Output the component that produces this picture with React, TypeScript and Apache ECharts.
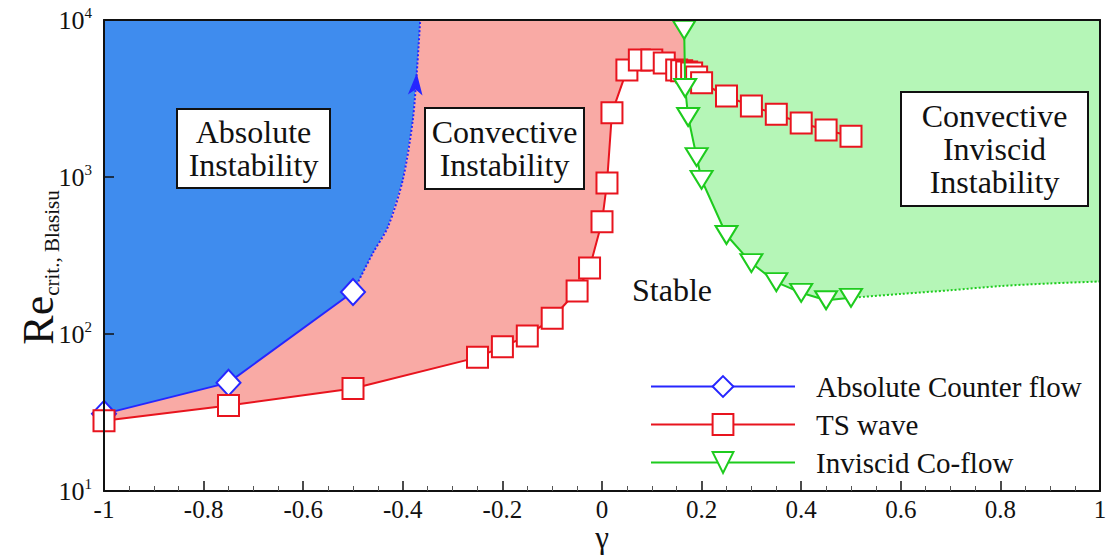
import React, { useEffect, useRef } from "react";
import * as echarts from "echarts";

// ---- data ----
const absGamma = [-1, -0.75, -0.5];
const absRe = [31, 49, 185];
const absExtGamma = [-0.5, -0.46, -0.43, -0.4, -0.38, -0.372, -0.365];
const absExtRe = [185, 328, 480, 960, 2300, 4600, 10000];

const tsGamma = [-1, -0.75, -0.5, -0.25, -0.2, -0.15, -0.1, -0.05, -0.025, 0, 0.01, 0.02, 0.05, 0.075, 0.1, 0.125, 0.15, 0.16, 0.17, 0.18, 0.19, 0.2, 0.25, 0.3, 0.35, 0.4, 0.45, 0.5];
const tsRe = [28, 35, 45, 71, 83, 97, 126, 188, 263, 519, 915, 2570, 4800, 5560, 5560, 5320, 4800, 4750, 4660, 4590, 4330, 3980, 3280, 2830, 2510, 2210, 1990, 1820];

const coTopGamma = 0.165;
const coGamma = [0.165, 0.167, 0.173, 0.19, 0.2, 0.25, 0.3, 0.35, 0.4, 0.45, 0.5];
const coRe = [8640, 3690, 2410, 1340, 960, 427, 283, 214, 183, 164, 170];
const coExtGamma = [0.5, 0.6, 0.7, 0.8, 0.9, 1.0];
const coExtRe = [170, 180, 190, 202, 210, 216];

const xMin = -1, xMax = 1, xInterval = 0.2;
const yMin = 10, yMax = 10000;

const seriesNames = ["Absolute Counter flow", "TS wave", "Inviscid Co-flow"];

const zip = (xs: number[], ys: number[]) => xs.map((x, i) => [x, ys[i]]);

const FONT = "Liberation Serif";
const BLUE = "#2626ff";
const RED = "#e8141e";
const GREEN = "#1ecb1e";

export default function App() {
  const ref = useRef<HTMLDivElement>(null);
  useEffect(() => {
    if (!ref.current) return;
    const chart = echarts.init(ref.current, undefined, { renderer: "svg" });

    const absPts = zip(absGamma, absRe);
    const absExtPts = zip(absExtGamma, absExtRe);
    const tsPts = zip(tsGamma, tsRe);
    const coPts = zip(coGamma, coRe);
    const coExtPts = zip(coExtGamma, coExtRe);

    const bluePoly = [...absPts, ...absExtPts.slice(1), [xMin, yMax]];
    const tsLeft = tsPts.filter((p) => p[0] < coTopGamma);
    const redPoly = [...tsLeft, [coTopGamma, tsLeft[tsLeft.length - 1][1]], [coTopGamma, yMax], [xMin, yMax]];
    const greenPoly = [[coTopGamma, yMax], ...coPts, ...coExtPts.slice(1), [xMax, yMax]];

    const poly = (pts: number[][], color: string, z: number) => ({
      type: "custom",
      silent: true,
      z,
      data: [[0, 100]],
      renderItem: (_p: any, api: any) => ({
        type: "polygon",
        shape: { points: pts.map((p) => api.coord(p)) },
        style: { fill: color, stroke: "none" },
      }),
    });

    const label = (x: number, y: number, w: number, h: number, text: string, box: boolean) => [
      ...(box
        ? [{ type: "rect", z: 50, shape: { x, y, width: w, height: h }, style: { fill: "#fff", stroke: "#111", lineWidth: 2 } }]
        : []),
      {
        type: "text",
        z: 51,
        x: x + w / 2,
        y: y + h / 2,
        style: {
          text,
          fontFamily: FONT,
          fontSize: 32,
          fill: "#111",
          align: "center",
          verticalAlign: "middle",
          lineHeight: 33,
        },
      },
    ];

    const edgeAxis = {
      axisLine: { show: true, onZero: false, lineStyle: { color: "#111", width: 2 } },
      axisTick: { show: false },
      axisLabel: { show: false },
      splitLine: { show: false },
    };

    chart.setOption({
      animation: false,
      backgroundColor: "#fff",
      textStyle: { fontFamily: FONT },
      grid: { left: 104, right: 7, top: 20, bottom: 65, containLabel: false, outerBoundsMode: "none" },
      legend: {
        data: seriesNames,
        orient: "vertical",
        left: 645,
        top: 367,
        itemWidth: 144,
        itemHeight: 26,
        itemGap: 9,
        textStyle: { fontFamily: FONT, fontSize: 29, color: "#111", padding: [0, 0, 0, 16] },
      },
      xAxis: [
        {
          type: "value",
          min: xMin,
          max: xMax,
          interval: xInterval,
          z: 20,
          name: "γ",
          nameLocation: "middle",
          nameGap: 31,
          nameMoveOverlap: false,
          nameTextStyle: { fontFamily: FONT, fontSize: 31, color: "#111", lineHeight: 31 },
          axisLine: { onZero: false, lineStyle: { color: "#111", width: 2 } },
          axisTick: { inside: true, length: 10, lineStyle: { color: "#111", width: 1.5 } },
          minorTick: { show: true, splitNumber: 4, length: 5, lineStyle: { color: "#555" } },
          splitLine: { show: false },
          axisLabel: { fontFamily: FONT, fontSize: 25, lineHeight: 24, color: "#111", margin: 6 },
        },
        { type: "value", position: "top", min: xMin, max: xMax, z: 20, ...edgeAxis },
      ],
      yAxis: [
        {
          type: "log",
          logBase: 10,
          min: yMin,
          max: yMax,
          z: 20,
          name: "{r|Re}{s|crit., Blasisu}",
          nameLocation: "middle",
          nameGap: 30,
          nameMoveOverlap: false,
          nameRotate: 90,
          nameTextStyle: {
            fontFamily: FONT,
            color: "#111",
            padding: [0, 24, 0, 0],
            rich: {
              r: { fontFamily: FONT, fontSize: 44, color: "#111", lineHeight: 44, padding: [0, 0, 28, 0] },
              s: { fontFamily: FONT, fontSize: 21, color: "#111", lineHeight: 24 },
            },
          },
          axisLine: { show: true, onZero: false, lineStyle: { color: "#111", width: 2 } },
          axisTick: { inside: true, length: 10, lineStyle: { color: "#111", width: 1.5 } },
          minorTick: { show: false },
          splitLine: { show: false },
          axisLabel: {
            margin: 12,
            fontFamily: FONT,
            formatter: (v: number) => `{b|10}{s|${Math.round(Math.log10(v))}}`,
            rich: {
              b: { fontFamily: FONT, fontSize: 26, color: "#111", lineHeight: 30 },
              s: { fontFamily: FONT, fontSize: 15, color: "#111", lineHeight: 30, padding: [0, 0, 14, 0] },
            },
          },
        },
        { type: "log", position: "right", min: yMin, max: yMax, z: 20, ...edgeAxis },
      ],
      series: [
        poly(redPoly, "#f9aaa5", 1),
        poly(bluePoly, "#3f8cee", 2),
        poly(greenPoly, "#b5f6b7", 2),
        {
          name: seriesNames[0],
          type: "line",
          z: 6,
          data: absPts,
          symbol: "diamond",
          symbolSize: [24, 26],
          lineStyle: { color: BLUE, width: 2 },
          itemStyle: { color: "#fff", borderColor: BLUE, borderWidth: 2 },
        },
        {
          name: "absExt",
          type: "line",
          z: 5,
          data: absExtPts,
          symbol: "none",
          smooth: 0.3,
          lineStyle: { color: BLUE, width: 2, type: "dotted" },
          markPoint: {
            silent: true,
            data: [{ coord: [absExtGamma[5], absExtRe[5]], symbol: "arrow", symbolSize: [11, 22], symbolRotate: -4 }],
            itemStyle: { color: BLUE },
            label: { show: false },
          },
        },
        {
          name: seriesNames[1],
          type: "line",
          z: 7,
          data: tsPts,
          symbol: "rect",
          symbolSize: 21,
          lineStyle: { color: RED, width: 2 },
          itemStyle: { color: "#fff", borderColor: RED, borderWidth: 2 },
        },
        {
          name: "coTop",
          type: "line",
          z: 5,
          data: [[coTopGamma, yMax], coPts[0]],
          symbol: "none",
          lineStyle: { color: GREEN, width: 2 },
        },
        {
          name: seriesNames[2],
          type: "line",
          z: 8,
          data: coPts,
          symbol: "triangle",
          symbolRotate: 180,
          symbolSize: [22, 18],
          lineStyle: { color: GREEN, width: 2 },
          itemStyle: { color: "#fff", borderColor: GREEN, borderWidth: 2 },
        },
        {
          name: "coExt",
          type: "line",
          z: 5,
          data: coExtPts,
          symbol: "none",
          smooth: 0.3,
          lineStyle: { color: GREEN, width: 2, type: "dotted" },
        },
      ],
      graphic: [
        ...label(177, 109, 153, 79, "Absolute\nInstability", true),
        ...label(425, 108, 159, 81, "Convective\nInstability", true),
        ...label(901, 92, 187, 114, "Convective\nInviscid\nInstability", true),
        ...label(612, 270, 120, 40, "Stable", false),
      ],
    });
    return () => chart.dispose();
  }, []);
  return <div ref={ref} style={{ position: "fixed", left: 0, top: 0, width: 1107, height: 556 }} />;
}
